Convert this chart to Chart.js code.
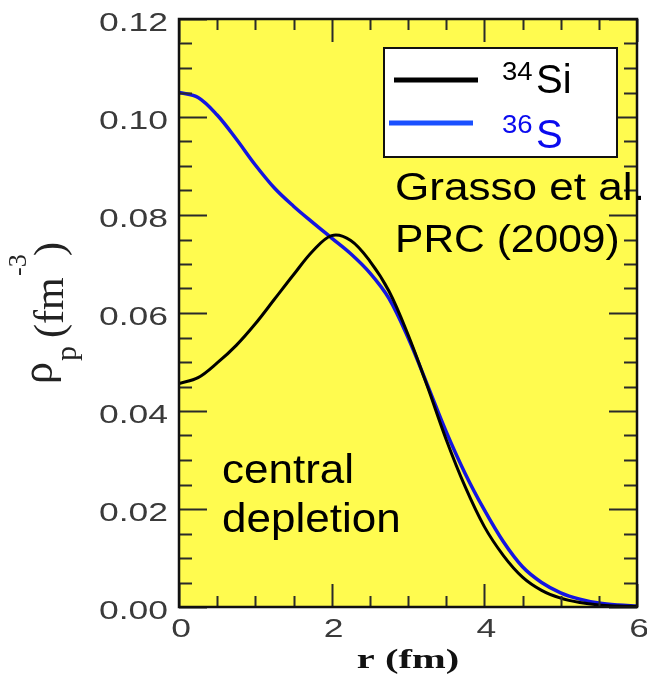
<!DOCTYPE html>
<html>
<head>
<meta charset="utf-8">
<script src="https://cdn.jsdelivr.net/npm/chart.js@4"></script>
<style>
  body { margin: 0; background: #ffffff; }
  #wrap { width: 647px; height: 678px; }
</style>
</head>
<body>
<div id="wrap"><canvas id="grafica" width="647" height="678"></canvas></div>
<script>
// radius values (fm) and proton densities
const rValues = [0, 0.25, 0.5, 0.75, 1, 1.25, 1.5, 1.75, 2, 2.25, 2.5, 2.75, 3, 3.25, 3.5, 3.75, 4, 4.25, 4.5, 4.75, 5, 5.25, 5.5, 5.75, 6];
const si34 = [0.0456, 0.0468, 0.0498, 0.0534, 0.0578, 0.0628, 0.0678, 0.0726, 0.0758, 0.0748, 0.0706, 0.0645, 0.0556, 0.0452, 0.0342, 0.0245, 0.0164, 0.0105, 0.0061, 0.0034, 0.0018, 0.0009, 0.0004, 0.0002, 0.0001];
const s36 = [0.1050, 0.1040, 0.1004, 0.0955, 0.0902, 0.0855, 0.0818, 0.0785, 0.0753, 0.0721, 0.0682, 0.0630, 0.0550, 0.0455, 0.0358, 0.0272, 0.0198, 0.0133, 0.0082, 0.0050, 0.0029, 0.0016, 0.0008, 0.0004, 0.0002];

const xTicks = [0, 2, 4, 6];
const yTicks = [0, 0.02, 0.04, 0.06, 0.08, 0.10, 0.12];

const toPoints = (ys) => rValues.map((r, i) => ({ x: r, y: ys[i] }));

// draw text squeezed/stretched sideways like in the scanned figure
function stretchText(ctx, str, x, y, font, color, sx, align) {
    ctx.save();
    ctx.font = font;
    ctx.fillStyle = color;
    ctx.textAlign = "left";
    ctx.textBaseline = "alphabetic";
    const w = ctx.measureText(str).width * sx;
    let left = x;
    if (align === "center") left = x - w / 2;
    if (align === "right") left = x - w;
    ctx.translate(left, y);
    ctx.scale(sx, 1);
    ctx.fillText(str, 0, 0);
    ctx.restore();
}

// rotated text reading upwards, baseline on the right side
function upText(ctx, str, baseX, startY, font, color) {
    ctx.save();
    ctx.font = font;
    ctx.fillStyle = color;
    ctx.textAlign = "left";
    ctx.textBaseline = "alphabetic";
    ctx.translate(baseX, startY);
    ctx.rotate(-Math.PI / 2);
    ctx.fillText(str, 0, 0);
    ctx.restore();
}

const decor = {
    id: "decor",
    beforeDraw(chart) {
        const { ctx, chartArea: a } = chart;
        ctx.save();
        ctx.fillStyle = "#fffb4f";
        ctx.fillRect(a.left, a.top, a.right - a.left, a.bottom - a.top);
        ctx.restore();
    },
    afterDatasetsDraw(chart) {
        const { ctx, chartArea: a } = chart;
        const xs = chart.scales.x;
        const ys = chart.scales.y;

        // inward ticks on all four sides
        ctx.save();
        ctx.strokeStyle = "#2a2a2a";
        ctx.lineWidth = 2;
        ctx.beginPath();
        for (let i = 0; i <= 24; i++) {
            const v = i * 0.005;
            const py = Math.round(ys.getPixelForValue(v)) + 0.5;
            const len = i % 4 === 0 ? 28 : 13;
            ctx.moveTo(a.left, py); ctx.lineTo(a.left + len, py);
            ctx.moveTo(a.right, py); ctx.lineTo(a.right - len, py);
        }
        for (let i = 0; i <= 12; i++) {
            const v = i * 0.5;
            const px = Math.round(xs.getPixelForValue(v)) + 0.5;
            const len = i % 4 === 0 ? 23 : 11;
            ctx.moveTo(px, a.bottom); ctx.lineTo(px, a.bottom - len);
            ctx.moveTo(px, a.top); ctx.lineTo(px, a.top + len);
        }
        ctx.stroke();

        // frame
        ctx.strokeStyle = "#111";
        ctx.lineWidth = 2.5;
        ctx.strokeRect(a.left, a.top, a.right - a.left, a.bottom - a.top);
        ctx.restore();

        // tick labels
        const tickFont = "25px 'Liberation Sans', Arial, sans-serif";
        yTicks.forEach(v => {
            const py = ys.getPixelForValue(v);
            stretchText(ctx, v.toFixed(2), 168, py + 12, tickFont, "#3a3a3a", 1.42, "right");
        });
        xTicks.forEach(v => {
            const px = xs.getPixelForValue(v);
            stretchText(ctx, String(v), px + 2, 637, tickFont, "#3a3a3a", 1.42, "center");
        });

        // axis titles
        stretchText(ctx, "r (fm)", 408, 668, "bold 27px 'Liberation Serif', serif", "#111", 1.5, "center");
        const serif = "'Liberation Serif', 'DejaVu Serif', serif";
        upText(ctx, "ρ", 52, 384, "44px " + serif, "#222");
        upText(ctx, "p", 76, 361, "30px " + serif, "#222");
        upText(ctx, "(fm", 63, 338, "42px " + serif, "#222");
        upText(ctx, "-3", 26, 276, "26px " + serif, "#222");
        upText(ctx, ")", 63, 256, "42px " + serif, "#222");

        // legend box
        ctx.save();
        ctx.fillStyle = "#ffffff";
        ctx.fillRect(384, 48, 233, 109);
        ctx.strokeStyle = "#111";
        ctx.lineWidth = 2;
        ctx.strokeRect(384, 48, 233, 109);
        ctx.lineWidth = 5;
        ctx.strokeStyle = "#000";
        ctx.beginPath(); ctx.moveTo(394, 80); ctx.lineTo(478, 80); ctx.stroke();
        ctx.strokeStyle = "#1a50ff";
        ctx.beginPath(); ctx.moveTo(389, 123); ctx.lineTo(473, 123); ctx.stroke();
        ctx.restore();
        const sans = "'Liberation Sans', Arial, sans-serif";
        stretchText(ctx, "34", 502, 80, "25px " + sans, "#000", 1.1, "left");
        stretchText(ctx, "Si", 536, 93, "40px " + sans, "#000", 1.0, "left");
        stretchText(ctx, "36", 502, 133, "25px " + sans, "#0a0aee", 1.1, "left");
        stretchText(ctx, "S", 536, 148, "40px " + sans, "#0a0aee", 1.0, "left");

        // annotations
        stretchText(ctx, "Grasso et al.", 395, 200, "38px " + sans, "#000", 1.16, "left");
        stretchText(ctx, "PRC (2009)", 395, 252, "38px " + sans, "#000", 1.12, "left");
        stretchText(ctx, "central", 222, 483, "40px " + sans, "#000", 1.1, "left");
        stretchText(ctx, "depletion", 222, 532, "40px " + sans, "#000", 1.1, "left");
    }
};

const grafica = document.getElementById("grafica");
const densityChart = new Chart(grafica, {
    type: "line",
    data: {
        datasets: [
            {
                label: "34Si",
                data: toPoints(si34),
                borderColor: "#000000",
                borderWidth: 3,
                pointRadius: 0,
                tension: 0.35,
                fill: false
            },
            {
                label: "36S",
                data: toPoints(s36),
                borderColor: "#1414e0",
                borderWidth: 3.5,
                pointRadius: 0,
                tension: 0.35,
                fill: false
            }
        ]
    },
    options: {
        responsive: false,
        animation: false,
        layout: { padding: { top: 19, right: 10, left: 0, bottom: 0 } },
        plugins: { legend: { display: false }, tooltip: { enabled: false } },
        scales: {
            x: {
                type: "linear",
                min: 0,
                max: 6,
                grid: { display: false },
                border: { display: false },
                ticks: { display: false },
                afterFit: (scale) => { scale.height = 71; }
            },
            y: {
                type: "linear",
                min: 0,
                max: 0.12,
                grid: { display: false },
                border: { display: false },
                ticks: { display: false },
                afterFit: (scale) => { scale.width = 179; }
            }
        }
    },
    plugins: [decor]
});
</script>
</body>
</html>
